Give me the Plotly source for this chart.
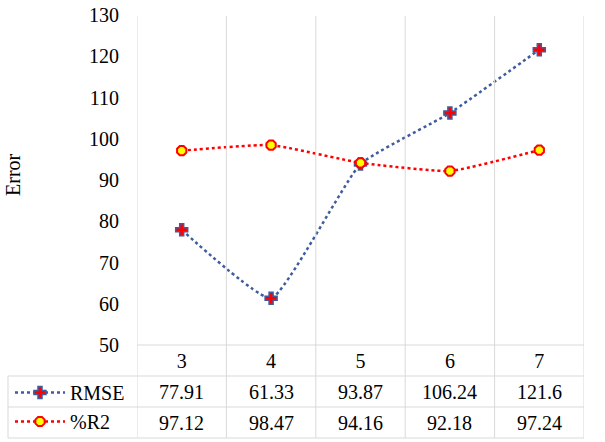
import plotly.graph_objects as go

categories = ["3", "4", "5", "6", "7"]
rmse = [77.91, 61.33, 93.87, 106.24, 121.6]
r2 = [97.12, 98.47, 94.16, 92.18, 97.24]
rmse_labels = ["77.91", "61.33", "93.87", "106.24", "121.6"]
r2_labels = ["97.12", "98.47", "94.16", "92.18", "97.24"]
y_ticks = [50, 60, 70, 80, 90, 100, 110, 120, 130]

FONT = "Liberation Serif, Times New Roman, serif"
GRID = "#d9d9d9"
BLUE = "#3E5C9E"
RED = "#FF0000"

W, H = 605, 442
L, R, T, B = 137, 21, 15, 97
PH = H - T - B  # plot height px


def py(ypix):
    """pixel y -> paper y"""
    return (H - B - ypix) / PH


def px(xpix):
    return (xpix - L) / (W - L - R)


fig = go.Figure()
fig.add_trace(go.Scatter(
    x=categories, y=rmse, name="RMSE", mode="lines+markers",
    line=dict(color=BLUE, width=2.5, dash="dot", shape="spline", smoothing=0.4),
    marker=dict(symbol="cross", size=10, color=RED, line=dict(color=BLUE, width=1.5)),
    legendgroup="a",
))
fig.add_trace(go.Scatter(
    x=categories, y=r2, name="%R2", mode="lines+markers",
    line=dict(color=RED, width=2.5, dash="dot", shape="spline", smoothing=0.4),
    marker=dict(symbol="octagon", size=10, color="#FFFF00", line=dict(color=RED, width=2)),
    legendgroup="b",
))

shapes = []
n = len(categories)
# vertical boundaries through plot and table
for i in range(n + 1):
    shapes.append(dict(type="line", xref="x", yref="paper", x0=i - 0.5, x1=i - 0.5,
                       y0=py(438), y1=py(16), line=dict(color=GRID, width=1)))
# horizontal table lines
shapes.append(dict(type="line", xref="paper", yref="paper", x0=0, x1=1,
                   y0=py(345), y1=py(345), line=dict(color=GRID, width=1)))
for yp in (376, 407, 438):
    shapes.append(dict(type="line", xref="paper", yref="paper", x0=px(8), x1=1,
                       y0=py(yp), y1=py(yp), line=dict(color=GRID, width=1)))
shapes.append(dict(type="line", xref="paper", yref="paper", x0=px(8), x1=px(8),
                   y0=py(438), y1=py(376), line=dict(color=GRID, width=1)))

annotations = []
for i, (a, b) in enumerate(zip(rmse_labels, r2_labels)):
    annotations.append(dict(x=i, xref="x", y=py(391.5), yref="paper", text=a,
                            showarrow=False, font=dict(family=FONT, size=20, color="#000"),
                            xanchor="center", yanchor="middle"))
    annotations.append(dict(x=i, xref="x", y=py(422.5), yref="paper", text=b,
                            showarrow=False, font=dict(family=FONT, size=20, color="#000"),
                            xanchor="center", yanchor="middle"))
# y-axis title
annotations.append(dict(x=px(13), xref="paper", y=py(174), yref="paper", text="Error",
                        textangle=-90, showarrow=False,
                        font=dict(family=FONT, size=20, color="#000"),
                        xanchor="center", yanchor="middle"))

fig.update_layout(
    width=W, height=H,
    margin=dict(l=L, r=R, t=T, b=B, autoexpand=False),
    paper_bgcolor="white", plot_bgcolor="white",
    font=dict(family=FONT, size=20, color="#000"),
    shapes=shapes,
    annotations=annotations,
    showlegend=True,
    legend=dict(x=px(10), y=py(373), xanchor="left", yanchor="top",
                font=dict(family=FONT, size=20, color="#000"),
                bgcolor="rgba(0,0,0,0)", tracegroupgap=6, itemwidth=50,
                traceorder="normal"),
    xaxis=dict(type="category", range=[-0.5, n - 0.5], showgrid=False, zeroline=False,
               showline=False, ticks="", tickfont=dict(family=FONT, size=20, color="#000"),
               ticklabelstandoff=2, automargin=False),
    yaxis=dict(range=[50, 130], tickvals=y_ticks, showgrid=False, zeroline=False,
               showline=False, ticks="", tickfont=dict(family=FONT, size=20, color="#000"),
               ticklabelstandoff=17, automargin=False),
)

fig.write_html("out.html")
